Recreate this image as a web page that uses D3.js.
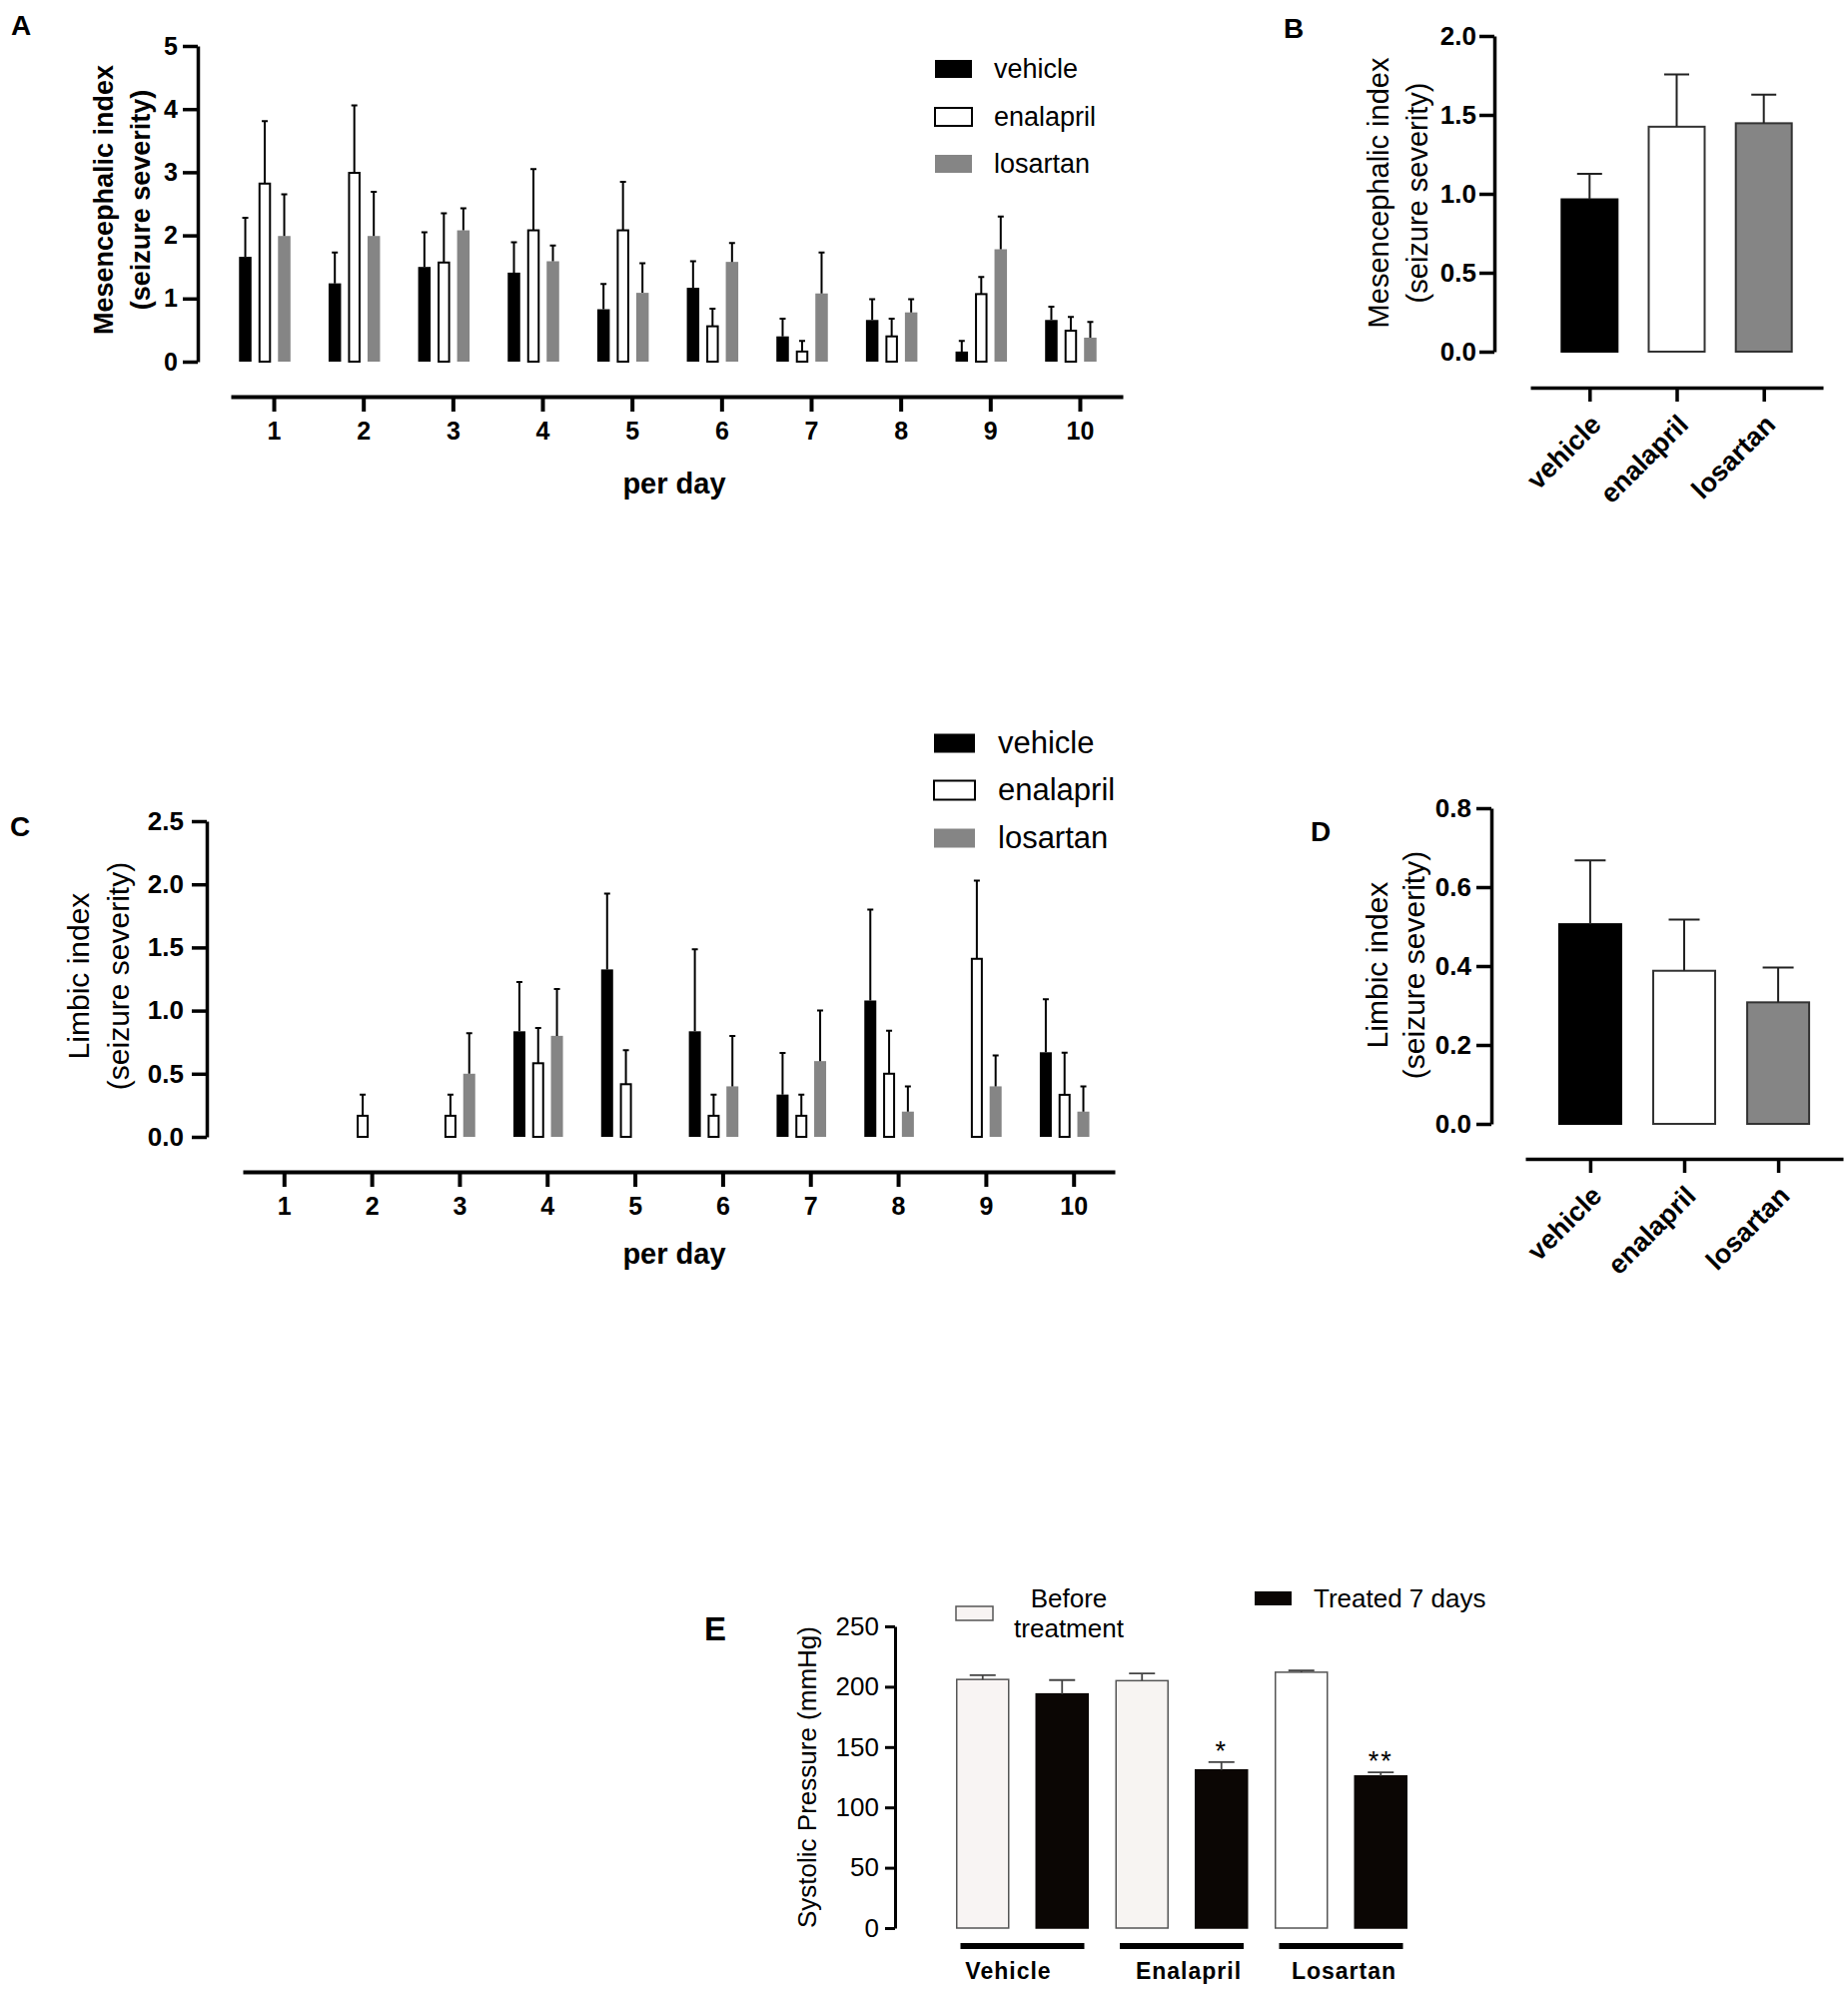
<!DOCTYPE html>
<html>
<head>
<meta charset="utf-8">
<script src="https://cdn.jsdelivr.net/npm/d3@7"></script>
<style>
  body { margin: 0; background: #fff; }
  svg { display: block; }
</style>
</head>
<body>
<div id="figure"></div>
<script>
// ---------------- data ----------------
const days = ['1', '2', '3', '4', '5', '6', '7', '8', '9', '10'];
const treatments = ['vehicle', 'enalapril', 'losartan'];

// A: mesencephalic index per day (mean and SEM)
const mesVehicle = [1.66, 1.24, 1.50, 1.41, 0.83, 1.17, 0.40, 0.66, 0.16, 0.66];
const mesVehicleSem = [0.62, 0.49, 0.55, 0.48, 0.40, 0.42, 0.28, 0.33, 0.17, 0.21];
const mesEnalapril = [2.82, 2.99, 1.57, 2.08, 2.08, 0.56, 0.16, 0.40, 1.07, 0.49];
const mesEnalaprilSem = [0.99, 1.07, 0.78, 0.97, 0.77, 0.28, 0.17, 0.28, 0.27, 0.22];
const mesLosartan = [1.99, 1.99, 2.08, 1.59, 1.09, 1.58, 1.08, 0.78, 1.78, 0.38];
const mesLosartanSem = [0.66, 0.70, 0.35, 0.25, 0.47, 0.30, 0.65, 0.21, 0.52, 0.25];

// B: mesencephalic index, whole period
const mesTotal = [0.965, 1.425, 1.447];
const mesTotalSem = [0.161, 0.332, 0.181];

// C: limbic index per day
const limVehicle = [0, 0, 0, 0.836, 1.326, 0.836, 0.335, 1.08, 0, 0.67];
const limVehicleSem = [0, 0, 0, 0.39, 0.60, 0.65, 0.33, 0.72, 0, 0.42];
const limEnalapril = [0, 0.167, 0.167, 0.583, 0.417, 0.167, 0.167, 0.50, 1.41, 0.333];
const limEnalaprilSem = [0, 0.167, 0.167, 0.28, 0.27, 0.167, 0.167, 0.34, 0.62, 0.333];
const limLosartan = [0, 0, 0.50, 0.80, 0, 0.40, 0.60, 0.20, 0.40, 0.20];
const limLosartanSem = [0, 0, 0.32, 0.37, 0, 0.40, 0.40, 0.20, 0.245, 0.20];

// D: limbic index, whole period
const limTotal = [0.506, 0.388, 0.308];
const limTotalSem = [0.162, 0.130, 0.088];

// E: systolic pressure (mmHg)
const bpGroups = ['Vehicle', 'Enalapril', 'Losartan'];
const bpBefore = [206, 205, 212];
const bpBeforeSem = [3.5, 6, 1.5];
const bpTreated = [194, 131, 126];
const bpTreatedSem = [11.5, 6.5, 3];
const bpMarks = ['', '*', '**'];

// ---------------- figure ----------------
const font = 'Arial, "Liberation Sans", Helvetica, sans-serif';
const colors = { vehicle: '#000', enalapril: '#fff', losartan: '#858585' };

let svg = d3.select('#figure').append('svg')
    .attr('width', 1850)
    .attr('height', 1991)
    .attr('font-family', font);

svg.append('rect').attr('width', 1850).attr('height', 1991).attr('fill', '#fff');

// restyle a d3 axis group
function styleAxis(sel, lineWidth, fontSize, weight) {
    sel.attr('font-family', font).attr('font-size', fontSize);
    sel.select('.domain').attr('stroke', '#000').attr('stroke-width', lineWidth);
    sel.selectAll('.tick line').attr('stroke', '#000').attr('stroke-width', lineWidth);
    sel.selectAll('.tick text').attr('fill', '#000').attr('font-weight', weight);
}

function panelLetter(letter, x, y, size) {
    svg.append('text').attr('x', x).attr('y', y)
        .attr('font-size', size).attr('font-weight', 'bold')
        .text(letter);
}

// two-line rotated axis title
function yTitle(lines, xs, cy, size, weight) {
    lines.forEach((t, i) => {
        svg.append('text')
            .attr('transform', `translate(${xs[i]},${cy}) rotate(-90)`)
            .attr('text-anchor', 'middle')
            .attr('dy', '0.36em')
            .attr('font-size', size)
            .attr('font-weight', weight)
            .text(t);
    });
}

function legend(x, ys, w, h, textX, size) {
    treatments.forEach((name, i) => {
        svg.append('rect')
            .attr('x', x).attr('y', ys[i] - h / 2)
            .attr('width', w).attr('height', h)
            .attr('fill', colors[name])
            .attr('stroke', name === 'enalapril' ? '#000' : 'none')
            .attr('stroke-width', 2);
        svg.append('text')
            .attr('x', textX).attr('y', ys[i])
            .attr('dy', '0.33em')
            .attr('font-size', size)
            .text(name);
    });
}

// grouped bars per day (panels A and C)
function dailyPanel(opt) {
    let y = d3.scaleLinear().domain(opt.yDomain).range(opt.yRange);
    let x = d3.scalePoint().domain(days).range(opt.xRange).padding(opt.xPad);
    let inner = d3.scalePoint().domain(treatments).range([-opt.barStep, opt.barStep]);

    svg.append('g')
        .attr('transform', `translate(${opt.yAxisX},0)`)
        .call(d3.axisLeft(y).tickValues(opt.yTicks).tickFormat(opt.yFormat)
            .tickSize(15).tickSizeOuter(0).tickPadding(opt.yPad))
        .call(styleAxis, 3.5, opt.yFont, 'bold');

    svg.append('g')
        .attr('transform', `translate(0,${opt.xAxisY})`)
        .call(d3.axisBottom(x).tickSize(15).tickSizeOuter(0).tickPadding(10))
        .call(styleAxis, 4, 25, 'bold');

    svg.append('text')
        .attr('x', opt.xTitle[0]).attr('y', opt.xTitle[1])
        .attr('text-anchor', 'middle').attr('dy', '0.35em')
        .attr('font-size', 29).attr('font-weight', 'bold')
        .text('per day');

    opt.series.forEach((s, k) => {
        let name = treatments[k];
        let rows = days.map((d, i) => ({ day: d, mean: s[0][i], sem: s[1][i] }))
            .filter((r) => r.mean > 0);
        let cx = (r) => x(r.day) - opt.shift + inner(name);
        let bw = opt.barWidth;
        let stroked = name === 'enalapril';

        svg.append('g').selectAll('rect')
            .data(rows)
            .join('rect')
            .attr('x', (r) => cx(r) - bw / 2 + (stroked ? 1 : 0))
            .attr('y', (r) => y(r.mean))
            .attr('width', bw - (stroked ? 2 : 0))
            .attr('height', (r) => y(0) - y(r.mean))
            .attr('fill', colors[name])
            .attr('stroke', stroked ? '#000' : 'none')
            .attr('stroke-width', 2);

        // error bars (upper half only)
        svg.append('g').selectAll('path')
            .data(rows.filter((r) => r.sem > 0))
            .join('path')
            .attr('d', (r) => {
                let top = y(r.mean + r.sem);
                return `M${cx(r)},${y(r.mean)}V${top}M${cx(r) - 3},${top}H${cx(r) + 3}`;
            })
            .attr('fill', 'none')
            .attr('stroke', '#000')
            .attr('stroke-width', 2);
    });
}

// one bar per treatment (panels B and D)
function summaryPanel(opt) {
    let y = d3.scaleLinear().domain(opt.yDomain).range(opt.yRange);
    let x = d3.scalePoint().domain(treatments).range(opt.xRange).padding(opt.xPad);
    let bw = opt.barWidth;

    svg.append('g')
        .attr('transform', `translate(${opt.yAxisX},0)`)
        .call(d3.axisLeft(y).tickValues(opt.yTicks).tickFormat(d3.format('.1f'))
            .tickSize(15).tickSizeOuter(0).tickPadding(opt.yPad))
        .call(styleAxis, 3.5, 26, 'bold');

    let xg = svg.append('g')
        .attr('transform', `translate(0,${opt.xAxisY})`)
        .call(d3.axisBottom(x).tickSize(14).tickSizeOuter(0))
        .call(styleAxis, 3.5, 27, 'bold');
    xg.selectAll('.tick text')
        .attr('x', 0).attr('y', 0).attr('dy', '0.35em')
        .attr('text-anchor', 'end')
        .attr('transform', `translate(${opt.labelOff[0]},${opt.labelOff[1]}) rotate(-45)`);

    let rows = treatments.map((t, i) => ({ name: t, mean: opt.means[i], sem: opt.sems[i] }));

    svg.append('g').selectAll('rect')
        .data(rows)
        .join('rect')
        .attr('x', (r) => x(r.name) - bw / 2)
        .attr('y', (r) => y(r.mean))
        .attr('width', bw)
        .attr('height', (r) => y(0) - y(r.mean))
        .attr('fill', (r) => colors[r.name])
        .attr('stroke', (r) => r.name === 'vehicle' ? '#000' : '#333')
        .attr('stroke-width', 2);

    svg.append('g').selectAll('path')
        .data(rows)
        .join('path')
        .attr('d', (r) => {
            let top = y(r.mean + r.sem);
            let c = x(r.name);
            return `M${c},${y(r.mean)}V${top}M${c - opt.cap / 2},${top}H${c + opt.cap / 2}`;
        })
        .attr('fill', 'none')
        .attr('stroke', '#222')
        .attr('stroke-width', 2);
}

// ---------------- A ----------------
panelLetter('A', 11, 35, 28);
yTitle(['Mesencephalic index', '(seizure severity)'], [103, 140], 200, 27, 'bold');
dailyPanel({
    yDomain: [0, 5], yRange: [362, 46], yTicks: [0, 1, 2, 3, 4, 5], yFormat: d3.format('d'),
    yAxisX: 198, yPad: 5, yFont: 25,
    xRange: [231, 1124], xPad: 0.48, xAxisY: 397, shift: 9,
    barStep: 19.5, barWidth: 12.5,
    xTitle: [675, 484],
    series: [[mesVehicle, mesVehicleSem], [mesEnalapril, mesEnalaprilSem], [mesLosartan, mesLosartanSem]]
});
legend(936, [69, 117, 164], 37, 18, 995, 27);

// ---------------- B ----------------
panelLetter('B', 1285, 38, 28);
yTitle(['Mesencephalic index', '(seizure severity)'], [1380, 1419], 193, 29, 'normal');
summaryPanel({
    yDomain: [0, 2], yRange: [352, 36], yTicks: [0, 0.5, 1, 1.5, 2],
    yAxisX: 1496, yPad: 3,
    xRange: [1532, 1825], xPad: 0.68, xAxisY: 388,
    barWidth: 56, cap: 25, labelOff: [6, 32],
    means: mesTotal, sems: mesTotalSem
});

// ---------------- C ----------------
panelLetter('C', 10, 837, 28);
yTitle(['Limbic index', '(seizure severity)'], [78, 118], 977, 30, 'normal');
dailyPanel({
    yDomain: [0, 2.5], yRange: [1138, 822], yTicks: [0, 0.5, 1, 1.5, 2, 2.5], yFormat: d3.format('.1f'),
    yAxisX: 207, yPad: 8, yFont: 26,
    xRange: [243, 1116], xPad: 0.47, xAxisY: 1173, shift: 9,
    barStep: 18.8, barWidth: 12,
    xTitle: [675, 1255],
    series: [[limVehicle, limVehicleSem], [limEnalapril, limEnalaprilSem], [limLosartan, limLosartanSem]]
});
legend(935, [744, 791, 839], 41, 19, 999, 31);

// ---------------- D ----------------
panelLetter('D', 1312, 842, 28);
yTitle(['Limbic index', '(seizure severity)'], [1378, 1415], 966, 30, 'normal');
summaryPanel({
    yDomain: [0, 0.8], yRange: [1125, 809], yTicks: [0, 0.2, 0.4, 0.6, 0.8],
    yAxisX: 1493, yPad: 5,
    xRange: [1527, 1845], xPad: 0.69, xAxisY: 1160,
    barWidth: 62, cap: 31, labelOff: [6, 32],
    means: limTotal, sems: limTotalSem
});

// ---------------- E ----------------
panelLetter('E', 705, 1642, 33);
{
    let y = d3.scaleLinear().domain([0, 250]).range([1930, 1628]);
    let x = d3.scalePoint().domain(bpGroups).range([1023.5, 1342.5]);
    let half = 39.75, bw = 52;
    let beforeFill = ['#f8f4f3', '#f7f4f2', '#ffffff'];
    let treatedFill = '#0b0604';
    // group names sit a little off the group centres in the original
    let nameShift = [-14, 7, 3];

    svg.append('g')
        .attr('transform', 'translate(896,0)')
        .call(d3.axisLeft(y).tickValues([0, 50, 100, 150, 200, 250])
            .tickSize(10).tickSizeOuter(0).tickPadding(6))
        .call(styleAxis, 3, 26, 'normal');

    svg.append('text')
        .attr('transform', 'translate(808,1779) rotate(-90)')
        .attr('text-anchor', 'middle').attr('dy', '0.36em')
        .attr('font-size', 26)
        .text('Systolic Pressure (mmHg)');

    let rows = [];
    bpGroups.forEach((g, i) => {
        rows.push({ cx: x(g) - half, mean: bpBefore[i], sem: bpBeforeSem[i], fill: beforeFill[i], stroke: '#555' });
        rows.push({ cx: x(g) + half, mean: bpTreated[i], sem: bpTreatedSem[i], fill: treatedFill, stroke: treatedFill, mark: bpMarks[i] });
    });

    svg.append('g').selectAll('rect')
        .data(rows)
        .join('rect')
        .attr('x', (r) => r.cx - bw / 2)
        .attr('y', (r) => y(r.mean))
        .attr('width', bw)
        .attr('height', (r) => y(0) - y(r.mean))
        .attr('fill', (r) => r.fill)
        .attr('stroke', (r) => r.stroke)
        .attr('stroke-width', 1.5);

    svg.append('g').selectAll('path')
        .data(rows)
        .join('path')
        .attr('d', (r) => {
            let top = y(r.mean + r.sem);
            return `M${r.cx},${y(r.mean)}V${top}M${r.cx - 13},${top}H${r.cx + 13}`;
        })
        .attr('fill', 'none')
        .attr('stroke', '#444')
        .attr('stroke-width', 1.8);

    // significance marks
    svg.append('g').selectAll('text')
        .data(rows.filter((r) => r.mark))
        .join('text')
        .attr('x', (r) => r.cx)
        .attr('y', (r) => y(r.mean + r.sem) - 2)
        .attr('text-anchor', 'middle')
        .attr('font-size', 27)
        .attr('letter-spacing', 2)
        .text((r) => r.mark);

    // group bars and names
    bpGroups.forEach((g, i) => {
        svg.append('rect')
            .attr('x', x(g) - 62).attr('y', 1945)
            .attr('width', 124).attr('height', 6)
            .attr('fill', '#000');
        svg.append('text')
            .attr('x', x(g) + nameShift[i]).attr('y', 1981)
            .attr('text-anchor', 'middle')
            .attr('font-size', 23).attr('font-weight', 'bold')
            .attr('letter-spacing', 1)
            .text(g);
    });

    // legend
    svg.append('rect').attr('x', 957).attr('y', 1608).attr('width', 37).attr('height', 14)
        .attr('fill', beforeFill[0]).attr('stroke', '#555').attr('stroke-width', 1.5);
    svg.append('text').attr('x', 1070).attr('y', 1609).attr('text-anchor', 'middle')
        .attr('font-size', 26).text('Before');
    svg.append('text').attr('x', 1070).attr('y', 1639).attr('text-anchor', 'middle')
        .attr('font-size', 26).text('treatment');
    svg.append('rect').attr('x', 1256).attr('y', 1593).attr('width', 37).attr('height', 14)
        .attr('fill', treatedFill);
    svg.append('text').attr('x', 1315).attr('y', 1609)
        .attr('font-size', 26).text('Treated 7 days');
}
</script>
</body>
</html>
